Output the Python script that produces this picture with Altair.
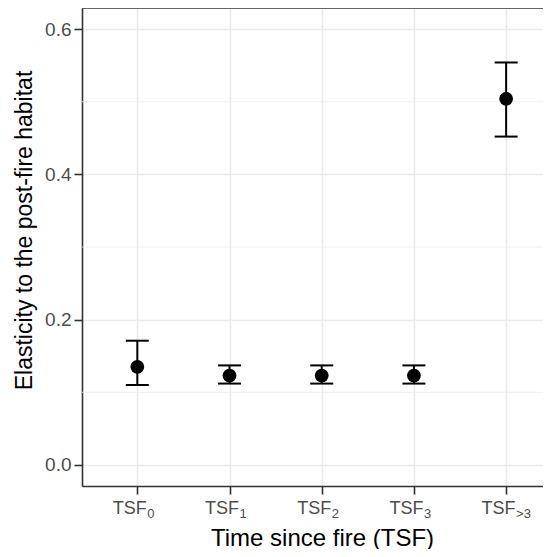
import altair as alt
import pandas as pd

categories = ["TSF0", "TSF1", "TSF2", "TSF3", "TSF>3"]
subscripts = ["0", "1", "2", "3", ">3"]
elasticity = [0.135, 0.123, 0.123, 0.123, 0.504]
lower = [0.110, 0.112, 0.112, 0.112, 0.452]
upper = [0.171, 0.137, 0.137, 0.137, 0.554]
major_breaks = [0.0, 0.2, 0.4, 0.6]
minor_breaks = [0.1, 0.3, 0.5]

df = pd.DataFrame({
    "idx": list(range(len(categories))),
    "cat": categories,
    "sub": subscripts,
    "est": elasticity,
    "lo": lower,
    "hi": upper,
})
minor_df = pd.DataFrame({"v": minor_breaks})
one_df = pd.DataFrame({"k": [0]})

W, H = 461, 478
FONT = "Liberation Sans"
xscale = alt.Scale(domain=[-0.6, 4.4], nice=False, zero=False)
yscale = alt.Scale(domain=[-0.029, 0.629], nice=False, zero=False)

xaxis = alt.Axis(
    values=list(range(len(categories))),
    labelExpr="'TSF'",
    labelAlign="right",
    labelOffset=9,
    labelFontSize=18,
    labelColor="#4d4d4d",
    labelPadding=5,
    tickColor="#333333",
    tickSize=8,
    tickWidth=1.6,
    domain=True,
    domainColor="#333333",
    domainWidth=1.6,
    grid=True,
    gridColor="#ebebeb",
    gridWidth=1.6,
    title="Time since fire (TSF)",
    titleFontSize=24,
    titleFontWeight="normal",
    titleColor="#000000",
    titleX=240,
    titleY=59,
    titleBaseline="alphabetic",
)
yaxis = alt.Axis(
    values=major_breaks,
    format=".1f",
    labelFontSize=19,
    labelColor="#4d4d4d",
    labelPadding=3,
    tickColor="#333333",
    tickSize=8,
    tickWidth=1.6,
    domain=True,
    domainColor="#333333",
    domainWidth=1.6,
    grid=True,
    gridColor="#ebebeb",
    gridWidth=1.6,
    title="Elasticity to the post-fire habitat",
    titleFontSize=23,
    titleFontWeight="normal",
    titleColor="#000000",
    titleX=-51,
    titleY=222,
    titleBaseline="alphabetic",
)

minor = alt.Chart(minor_df).mark_rule(color="#ebebeb", strokeWidth=0.8).encode(
    y=alt.Y("v:Q", scale=yscale)
)

top_border = alt.Chart(one_df).mark_rule(color="#333333", strokeWidth=1.6).encode(
    x=alt.value(0), x2=alt.value(W), y=alt.value(0)
)

base = alt.Chart(df)

points = base.mark_circle(color="black", opacity=1, size=190).encode(
    x=alt.X("idx:Q", scale=xscale, axis=xaxis),
    y=alt.Y("est:Q", scale=yscale, axis=yaxis),
)

bars = base.mark_rule(color="black", strokeWidth=2).encode(
    x=alt.X("idx:Q", scale=xscale),
    y=alt.Y("lo:Q", scale=yscale),
    y2="hi:Q",
)
cap_lo = base.mark_tick(color="black", orient="horizontal", size=23, thickness=2, opacity=1).encode(
    x=alt.X("idx:Q", scale=xscale),
    y=alt.Y("lo:Q", scale=yscale),
)
cap_hi = base.mark_tick(color="black", orient="horizontal", size=23, thickness=2, opacity=1).encode(
    x=alt.X("idx:Q", scale=xscale),
    y=alt.Y("hi:Q", scale=yscale),
)

subs = base.mark_text(
    align="left", baseline="alphabetic", dx=10, fontSize=13, color="#4d4d4d", font=FONT
).encode(
    x=alt.X("idx:Q", scale=xscale),
    y=alt.value(H + 32),
    text="sub:N",
)

chart = alt.layer(minor, top_border, points, bars, cap_lo, cap_hi, subs).properties(
    width=W,
    height=H,
    autosize="none",
    padding={"left": 74, "top": 0, "right": 0, "bottom": 63},
).configure(font=FONT).configure_view(
    strokeWidth=0
)

chart.save("out.html", embed_options={"renderer": "svg", "actions": False})
